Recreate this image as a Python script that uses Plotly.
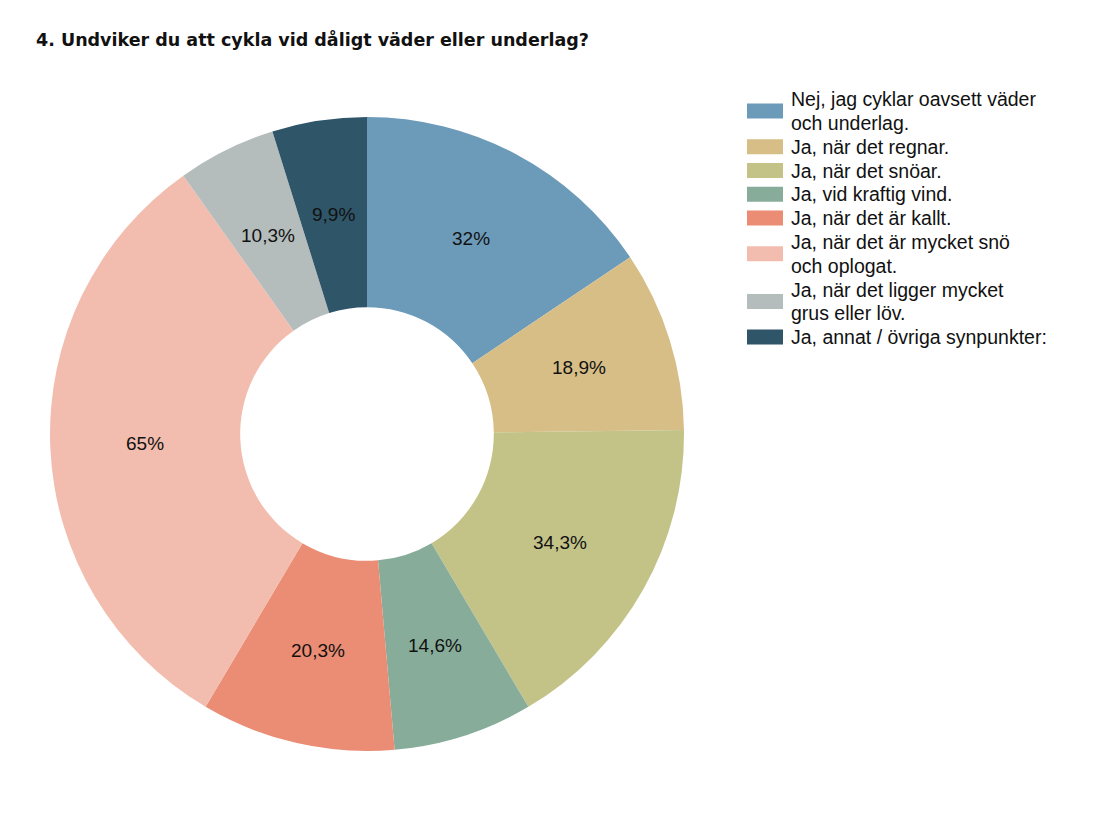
import math
import plotly.graph_objects as go

title = "4. Undviker du att cykla vid dåligt väder eller underlag?"
categories = [
    "Nej, jag cyklar oavsett väder<br>och underlag.",
    "Ja, när det regnar.",
    "Ja, när det snöar.",
    "Ja, vid kraftig vind.",
    "Ja, när det är kallt.",
    "Ja, när det är mycket snö<br>och oplogat.",
    "Ja, när det ligger mycket<br>grus eller löv.",
    "Ja, annat / övriga synpunkter:",
]
values = [32, 18.9, 34.3, 14.6, 20.3, 65, 10.3, 9.9]
colors = ["#6C9AB9", "#D7BE87", "#C3C388", "#87AD9A", "#EB8C74", "#F2BDAE", "#B5BDBC", "#2F5568"]

W, H = 1108, 814
OFF = 8  # page body margin
labels_txt = [f"{v:g}".replace(".", ",") + "%" for v in values]

cx, cy, R = 367 - OFF, 434 - OFF, 317
HOLE = 0.4

def px(x):
    return x / W

def py(y):
    return 1 - y / H

fig = go.Figure()
fig.add_trace(go.Pie(
    labels=[c.replace("<br>", " ") for c in categories],
    values=values,
    text=labels_txt,
    textinfo="none",
    hovertemplate="%{label}: %{text}<extra></extra>",
    marker=dict(colors=colors, line=dict(width=0)),
    hole=HOLE,
    sort=False,
    direction="clockwise",
    rotation=0,
    showlegend=False,
    domain=dict(x=[px(cx - R), px(cx + R)], y=[py(cy + R), py(cy - R)]),
))

shapes = []
annotations = [dict(
    text=f"<b>{title}</b>", x=px(26), y=py(40 - OFF), xref="paper", yref="paper",
    xanchor="left", yanchor="middle", showarrow=False,
    font=dict(family="DejaVu Sans, sans-serif", size=17.5, color="#111111"),
)]

# slice labels at the middle of the ring
total = sum(values)
rmid = R * (1 + HOLE) / 2
cum = 0.0
for v, t in zip(values, labels_txt):
    ang = 2 * math.pi * (cum + v / 2) / total
    cum += v
    x = cx + rmid * math.sin(ang)
    y = cy - rmid * math.cos(ang)
    annotations.append(dict(
        text=t, x=px(x), y=py(y), xref="paper", yref="paper",
        xanchor="center", yanchor="middle", showarrow=False,
        font=dict(family="Liberation Sans, Arial, sans-serif", size=19, color="#111111"),
    ))

# legend
top = 87.2
pitch = 23.8
nl = 0
for cat, col in zip(categories, colors):
    lines = cat.split("<br>")
    n = len(lines)
    yc = top + (nl + n / 2) * pitch - OFF
    shapes.append(dict(type="rect", xref="paper", yref="paper",
                       x0=px(747 - OFF), x1=px(783 - OFF), y0=py(yc - 7.5), y1=py(yc + 7.5),
                       fillcolor=col, line=dict(width=0)))
    for i, line in enumerate(lines):
        yl = top + (nl + i + 0.5) * pitch - OFF
        annotations.append(dict(
            text=line, x=px(781), y=py(yl), xref="paper", yref="paper",
            xanchor="left", yanchor="middle", align="left", showarrow=False,
            font=dict(family="Liberation Sans, Arial, sans-serif", size=19.5, color="#111111"),
        ))
    nl += n

fig.update_layout(
    width=W, height=H,
    margin=dict(l=0, r=0, t=0, b=0),
    paper_bgcolor="white", plot_bgcolor="white",
    shapes=shapes, annotations=annotations,
)
fig.write_html("out.html")
